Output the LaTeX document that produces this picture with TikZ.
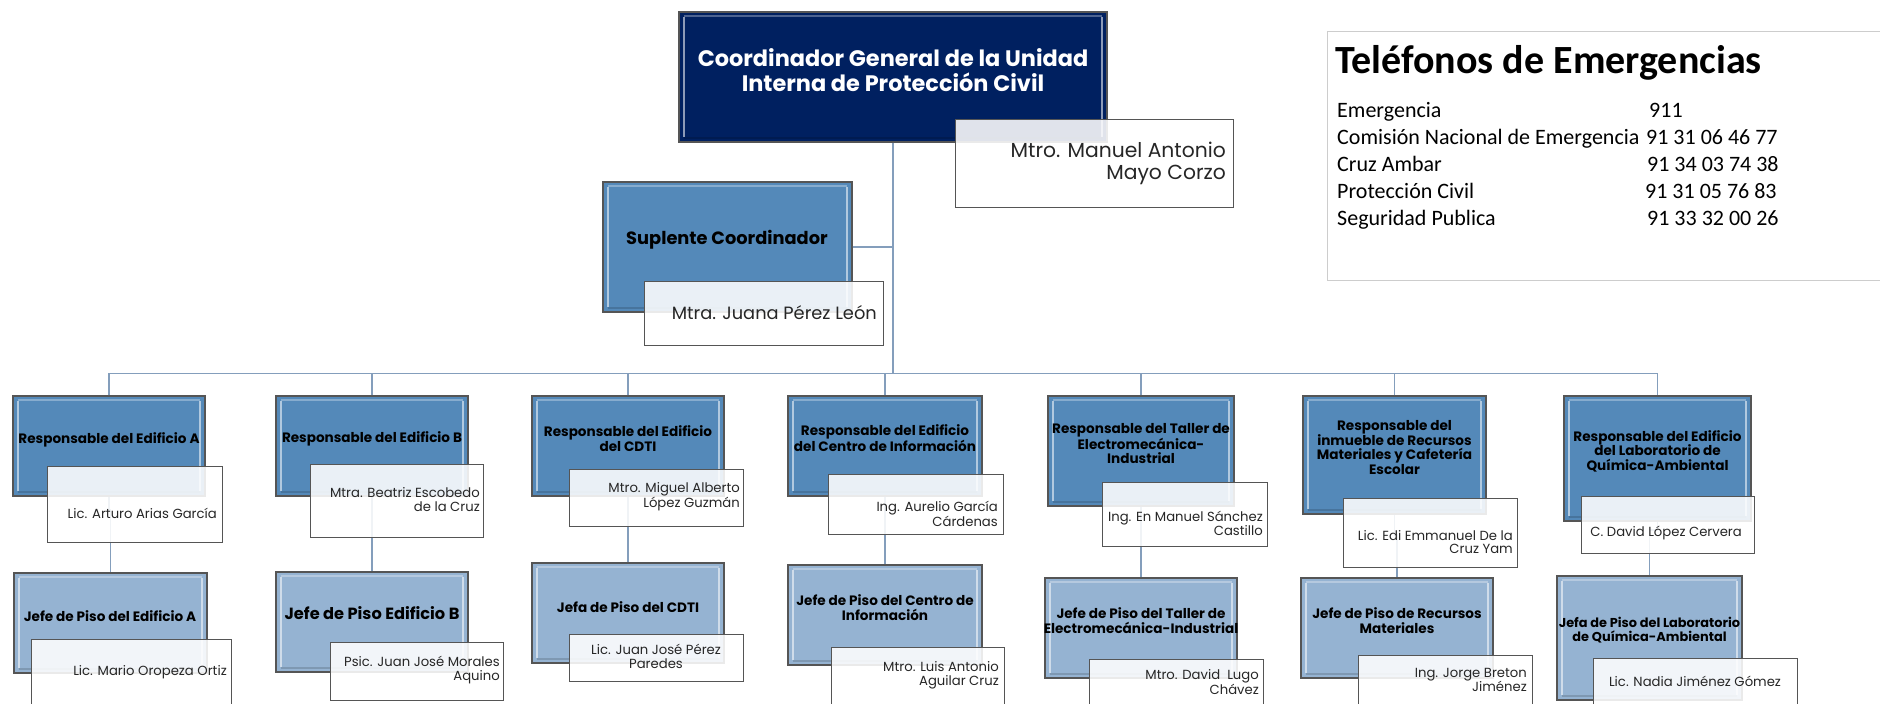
\documentclass[tikz,border=0pt]{standalone}
\usepackage{fontspec}
\setmainfont{Poppins}
\newfontfamily\phonefont{Carlito}
\definecolor{navy}{RGB}{0,32,96}
\definecolor{respblue}{RGB}{84,137,185}
\definecolor{jefeblue}{RGB}{149,179,210}
\definecolor{edge}{RGB}{85,85,85}
\definecolor{connc}{RGB}{132,158,188}
\definecolor{nametext}{RGB}{38,38,38}
\begin{document}
\begin{tikzpicture}[x=1pt,y=-1pt,
  bevel/.style={rectangle, draw=edge, line width=1.3pt, inner sep=0pt,
    path picture={
      \draw[white,opacity=.55,line width=1.6pt]
        ([xshift=5pt,yshift=-5pt]path picture bounding box.north west) -- ([xshift=5pt,yshift=5pt]path picture bounding box.south west);
      \draw[white,opacity=.55,line width=1.6pt]
        ([xshift=-5pt,yshift=-5pt]path picture bounding box.north east) -- ([xshift=-5pt,yshift=5pt]path picture bounding box.south east);
      \draw[white,opacity=.30,line width=1.2pt]
        ([xshift=5pt,yshift=-4pt]path picture bounding box.north west) -- ([xshift=-5pt,yshift=-4pt]path picture bounding box.north east);
      \draw[black,opacity=.15,line width=1.2pt]
        ([xshift=5pt,yshift=4pt]path picture bounding box.south west) -- ([xshift=-5pt,yshift=4pt]path picture bounding box.south east);
    }},
  topbox/.style={bevel, fill=navy},
  respbox/.style={bevel, fill=respblue},
  jefebox/.style={bevel, fill=jefeblue},
  namebox/.style={rectangle, draw=edge, line width=1pt, fill=white, fill opacity=.88, inner sep=0pt},
  btext/.style={inner sep=0pt, align=center, text=black, font=\bfseries\fontsize{13.6}{14.6}\selectfont},
  ntext/.style={inner sep=0pt, align=right, anchor=east, text=nametext, font=\fontsize{13.2}{13.8}\selectfont},
  ctext/.style={inner sep=0pt, align=center, text=nametext, font=\fontsize{13.2}{13.8}\selectfont},
  conn/.style={draw=connc, line width=1.6pt},
  ptext/.style={inner sep=0pt, anchor=base west, font=\phonefont\fontsize{22}{26}\selectfont}
]
\useasboundingbox (0,0) rectangle (1880,704);

% ---------- phone box ----------
\node[rectangle, draw={rgb,255:red,205;green,205;blue,205}, line width=1pt, minimum width=563pt, minimum height=249pt, anchor=north west, inner sep=0pt] (phones) at (1327,31) {};
\node[inner sep=0pt, anchor=base west, font=\phonefont\bfseries\fontsize{40}{44}\selectfont] (ptitle) at (1335,73) {Teléfonos de Emergencias};
\node[ptext] (p1a) at (1337,117) {Emergencia};
\node[ptext] (p1b) at (1649,117) {911};
\node[ptext] (p2a) at (1337,144.5) {Comisión Nacional de Emergencia};
\node[ptext] (p2b) at (1646,144.5) {91 31 06 46 77};
\node[ptext] (p3a) at (1337,171) {Cruz Ambar};
\node[ptext] (p3b) at (1647,171) {91 34 03 74 38};
\node[ptext] (p4a) at (1337,198.5) {Protección Civil};
\node[ptext] (p4b) at (1645,198.5) {91 31 05 76 83};
\node[ptext] (p5a) at (1337,225) {Seguridad Publica};
\node[ptext] (p5b) at (1647,225) {91 33 32 00 26};

% ---------- coordinates ----------
\coordinate (bus) at (893,374);

% ---------- boxes ----------
\node[topbox, minimum width=428pt, minimum height=130pt] (top) at (893,77) {};
\node[respbox, minimum width=249pt, minimum height=130pt] (sup) at (727.5,247) {};

\node[respbox, minimum width=192pt, minimum height=100pt] (rA) at (109,446) {};
\node[respbox, minimum width=192pt, minimum height=100pt] (rB) at (372,446) {};
\node[respbox, minimum width=192pt, minimum height=100pt] (rC) at (628,446) {};
\node[respbox, minimum width=194pt, minimum height=100pt] (rD) at (885,446) {};
\node[respbox, minimum width=186pt, minimum height=110pt] (rE) at (1141,451) {};
\node[respbox, minimum width=183pt, minimum height=118pt] (rF) at (1394.5,455) {};
\node[respbox, minimum width=187pt, minimum height=125pt] (rG) at (1657.5,458.5) {};

\node[jefebox, minimum width=193pt, minimum height=100pt] (jA) at (110.5,623) {};
\node[jefebox, minimum width=192pt, minimum height=100pt] (jB) at (372,622) {};
\node[jefebox, minimum width=192pt, minimum height=100pt] (jC) at (628,613) {};
\node[jefebox, minimum width=194pt, minimum height=100pt] (jD) at (885,615) {};
\node[jefebox, minimum width=192pt, minimum height=100pt] (jE) at (1141,628) {};
\node[jefebox, minimum width=192pt, minimum height=100pt] (jF) at (1397,628) {};
\node[jefebox, minimum width=185pt, minimum height=124pt] (jG) at (1649.5,638) {};

% ---------- elbow points (behind name boxes) ----------
\coordinate (eA) at (109,510);
\coordinate (eB) at (372,505);
\coordinate (eC) at (628,500);
\coordinate (eD) at (885,505);
\coordinate (eE) at (1141,515);
\coordinate (eF) at (1394.5,535);
\coordinate (eG) at (1657.5,530);

% ---------- connectors ----------
\draw[conn] (top.south) -- (bus);
\draw[conn] (sup.east) -- (sup.east -| top.south);
\draw[conn] (rA.north) -- ++(0,-22) -| (rG.north);
\foreach \r in {rB,rC,rD,rE,rF} { \draw[conn] (\r.north) -- (\r.north |- bus); }
\foreach \s in {A,B,C,D,E,F,G} { \draw[conn] (r\s.south) -- (e\s) -| (j\s.north); }

% ---------- name boxes ----------
\node[namebox, minimum width=278pt, minimum height=88pt] (ntop) at (1094,163) {};
\node[namebox, minimum width=239pt, minimum height=64pt] (nsup) at (763.5,313) {};

\node[namebox, minimum width=175pt, minimum height=76pt] (nA) at (134.5,504) {};
\node[namebox, minimum width=173pt, minimum height=73pt] (nB) at (396.5,500.5) {};
\node[namebox, minimum width=174pt, minimum height=57pt] (nC) at (656,497.5) {};
\node[namebox, minimum width=175pt, minimum height=60pt] (nD) at (915.5,504) {};
\node[namebox, minimum width=165pt, minimum height=64pt] (nE) at (1184.5,514) {};
\node[namebox, minimum width=174pt, minimum height=69pt] (nF) at (1430,532.5) {};
\node[namebox, minimum width=173pt, minimum height=57pt] (nG) at (1667.5,524.5) {};

\node[namebox, minimum width=200pt, minimum height=74pt] (mA) at (131,676) {};
\node[namebox, minimum width=173pt, minimum height=58pt] (mB) at (416.5,671) {};
\node[namebox, minimum width=174pt, minimum height=47pt] (mC) at (656,657.5) {};
\node[namebox, minimum width=173pt, minimum height=66pt] (mD) at (917.5,680) {};
\node[namebox, minimum width=174pt, minimum height=54pt] (mE) at (1176,686) {};
\node[namebox, minimum width=174pt, minimum height=58pt] (mF) at (1445,684) {};
\node[namebox, minimum width=204pt, minimum height=54pt] (mG) at (1695,685) {};

% ---------- texts ----------
\node[inner sep=0pt, align=center, text=white, font=\bfseries\fontsize{22.4}{24.5}\selectfont] (ttop) at (893,70) {Coordinador General de la Unidad\\Interna de Protección Civil};
\node[inner sep=0pt, align=center, font=\bfseries\fontsize{17.8}{20}\selectfont] (tsup) at (727,240) {Suplente Coordinador};
\node[ntext, font=\fontsize{20.3}{22}\selectfont] (tntop) at (1226,163) {Mtro. Manuel Antonio\\Mayo Corzo};
\node[ntext, font=\fontsize{17.8}{20}\selectfont] (tnsup) at (877,313) {Mtra. Juana Pérez León};

\node[btext] (trA) at (109,440) {Responsable del Edificio A};
\node[btext] (trB) at (372,439) {Responsable del Edificio B};
\node[btext] (trC) at (628,438.5) {Responsable del Edificio\\del CDTI};
\node[btext] (trD) at (885,438.5) {Responsable del Edificio\\del Centro de Información};
\node[btext] (trE) at (1141,443.5) {Responsable del Taller de\\Electromecánica-\\Industrial};
\node[btext] (trF) at (1394.5,447.5) {Responsable del\\inmueble de Recursos\\Materiales y Cafetería\\Escolar};
\node[btext] (trG) at (1657.5,451) {Responsable del Edificio\\del Laboratorio de\\Química-Ambiental};

\node[btext] (tjA) at (110,616) {Jefe de Piso del Edificio A};
\node[btext, font=\bfseries\fontsize{16.2}{18}\selectfont] (tjB) at (372,613) {Jefe de Piso Edificio B};
\node[btext] (tjC) at (628,607) {Jefa de Piso del CDTI};
\node[btext] (tjD) at (885,607.5) {Jefe de Piso del Centro de\\Información};
\node[btext] (tjE) at (1141,620.5) {Jefe de Piso del Taller de\\Electromecánica-Industrial};
\node[btext] (tjF) at (1397,620.5) {Jefe de Piso de Recursos\\Materiales};
\node[btext, font=\bfseries\fontsize{12.9}{14}\selectfont] (tjG) at (1649.5,630) {Jefa de Piso del Laboratorio\\de Química-Ambiental};

\node[ntext] (tnA) at (217,513) {Lic. Arturo Arias García};
\node[ntext] (tnB) at (480,499.5) {Mtra. Beatriz Escobedo\\de la Cruz};
\node[ntext] (tnC) at (740,497) {Mtro. Miguel Alberto\\López Guzmán};
\node[ntext] (tnD) at (998,513.5) {Ing. Aurelio García\\Cárdenas};
\node[ntext] (tnE) at (1263,523) {Ing. En Manuel Sánchez\\Castillo};
\node[ntext] (tnF) at (1513,542) {Lic. Edi Emmanuel De la\\Cruz Yam};
\node[ntext] (tnG) at (1742,533) {C. David López Cervera};

\node[ntext] (tmA) at (227,672) {Lic. Mario Oropeza Ortiz};
\node[ntext] (tmB) at (500,670) {Psic. Juan José Morales\\Aquino};
\node[ctext] (tmC) at (656,656) {Lic. Juan José Pérez\\Paredes};
\node[ntext] (tmD) at (999,675.5) {Mtro. Luis Antonio\\Aguilar Cruz};
\node[ntext] (tmE) at (1259,682) {Mtro. David~ Lugo\\Chávez};
\node[ntext] (tmF) at (1527,680) {Ing. Jorge Breton\\Jiménez};
\node[ctext] (tmG) at (1695,681) {Lic. Nadia Jiménez Gómez};
\end{tikzpicture}
\end{document}
